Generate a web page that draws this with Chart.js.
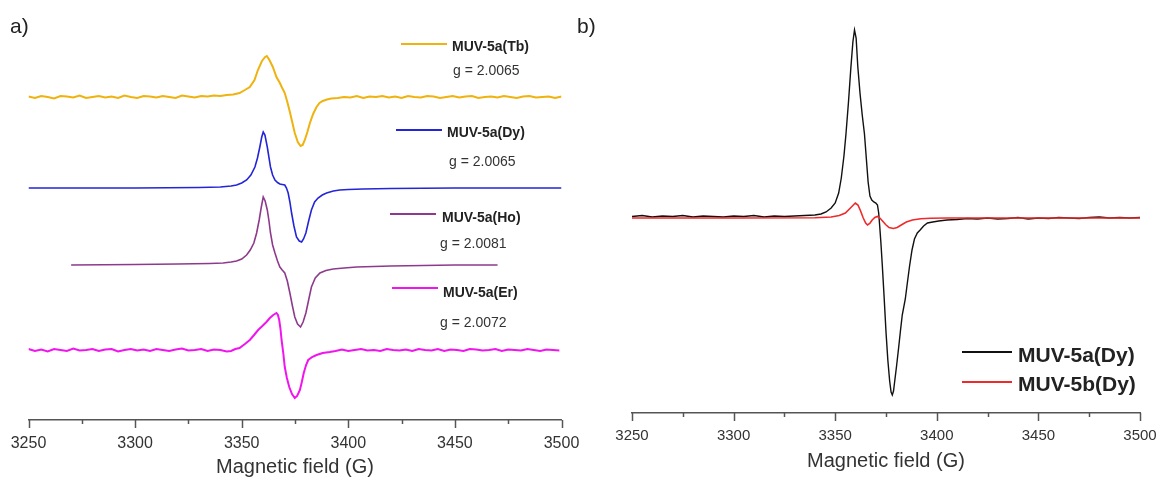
<!DOCTYPE html>
<html>
<head>
<meta charset="utf-8">
<script src="https://cdn.jsdelivr.net/npm/chart.js@4.4.1/dist/chart.umd.min.js"></script>
<style>
    body { margin: 0; background: #fff; font-family: "Liberation Sans", Arial, sans-serif; }
    #wrap { position: relative; width: 1160px; height: 483px; overflow: hidden; }
    canvas { position: absolute; top: 0; }
    .lbl { position: absolute; transform: translateY(-50%); white-space: nowrap; color: #222; line-height: 1; }
    .seg { position: absolute; height: 0; }
</style>
</head>
<body>
<div id="wrap">
    <canvas id="chartA" width="640" height="483" style="left:-40px"></canvas>
    <canvas id="chartB" width="640" height="483" style="left:560px"></canvas>

    <div class="lbl" style="left:10px;top:25px;font-size:21px;">a)</div>
    <div class="lbl" style="left:577px;top:25px;font-size:21px;">b)</div>

    <!-- panel a legend -->
    <div class="seg" style="left:401px;top:43px;width:46px;border-top:2px solid #EFB20F"></div>
    <div class="lbl" style="left:452px;top:46px;font-size:14px;font-weight:bold;">MUV-5a(Tb)</div>
    <div class="lbl" style="left:453px;top:70px;font-size:14px;color:#333">g = 2.0065</div>

    <div class="seg" style="left:396px;top:129px;width:46px;border-top:2px solid #2424D8"></div>
    <div class="lbl" style="left:447px;top:132px;font-size:14px;font-weight:bold;">MUV-5a(Dy)</div>
    <div class="lbl" style="left:449px;top:161px;font-size:14px;color:#333">g = 2.0065</div>

    <div class="seg" style="left:390px;top:213px;width:46px;border-top:2px solid #8E3A8C"></div>
    <div class="lbl" style="left:442px;top:217px;font-size:14px;font-weight:bold;">MUV-5a(Ho)</div>
    <div class="lbl" style="left:440px;top:243px;font-size:14px;color:#333">g = 2.0081</div>

    <div class="seg" style="left:392px;top:287px;width:46px;border-top:2px solid #F014EE"></div>
    <div class="lbl" style="left:443px;top:292px;font-size:14px;font-weight:bold;">MUV-5a(Er)</div>
    <div class="lbl" style="left:440px;top:322px;font-size:14px;color:#333">g = 2.0072</div>

    <!-- panel b legend -->
    <div class="seg" style="left:962px;top:351px;width:50px;border-top:2px solid #111"></div>
    <div class="lbl" style="left:1018px;top:354px;font-size:21px;font-weight:bold;">MUV-5a(Dy)</div>
    <div class="seg" style="left:962px;top:381px;width:50px;border-top:2px solid #EE2A2A"></div>
    <div class="lbl" style="left:1018px;top:383px;font-size:21px;font-weight:bold;">MUV-5b(Dy)</div>
</div>

<script>
// field range (G) and tick labels
const fieldMin = 3250;
const fieldMax = 3500;
const tickLabels = [3250, 3300, 3350, 3400, 3450, 3500];

// panel a: [field (G), signal], each spectrum shifted by its baseline offset
const offsetsA = { tb: 323, dy: 232, ho: 155, er: 70 };

const tbPoints = [
    [3250,0.5],[3253,-1],[3256,1],[3259,0],[3262,-1.5],[3265,1],[3268,0.5],[3271,-0.5],[3274,1.5],[3277,-1],
    [3280,0],[3283,1],[3286,-0.5],[3289,0.5],[3292,-1],[3295,1.5],[3298,0],[3301,-1],[3304,1],[3307,0.5],
    [3310,-0.5],[3313,1],[3316,0],[3319,-1],[3322,1.5],[3325,0.5],[3328,-0.5],[3331,1],[3334,0.5],[3337,1.5],
    [3340,1],[3343,2],[3346,2.5],[3349,4],[3351.5,7],[3353.8,10],[3356,17],[3357.6,27],[3359.5,36],[3361,40],
    [3361.8,41],[3363,37],[3364.6,30],[3366.3,20],[3367.9,14],[3369,9],[3370.2,4],[3371.4,-5],[3372.6,-15],
    [3373.8,-26],[3374.9,-36],[3376.3,-45],[3377.6,-49],[3378.6,-48],[3379.6,-43],[3380.8,-35],[3382,-26],
    [3383.5,-17],[3385.1,-10],[3386.5,-6],[3388,-4],[3390,-2.5],[3392,-1.5],
    [3395,-1],[3398,0],[3401,-0.5],[3404,1],[3407,-1],[3410,0.5],[3413,0],[3416,1],[3419,-0.5],[3422,0.5],
    [3425,-1],[3428,1],[3431,0],[3434,-0.5],[3437,1],[3440,0.5],[3443,-1],[3446,0],[3449,1],[3452,-0.5],
    [3455,0.5],[3458,1],[3461,-1],[3464,0],[3467,0.5],[3470,-0.5],[3473,1],[3476,0],[3479,-1],[3482,0.5],
    [3485,1],[3488,-0.5],[3491,0],[3494,0.5],[3497,-1],[3500,0.5]
];

const dyPoints = [
    [3250,0],[3300,0],[3330,0.5],[3340,1],[3345,2],[3347.6,3],[3350,5],[3352.3,8],[3354.3,13],[3356.2,21],
    [3357.4,30],[3358.5,41],[3359.4,51],[3360.1,56],[3360.9,53],[3362,41],[3363.5,21],[3364.5,13],[3365.6,8],
    [3366.8,5.5],[3367.9,4],[3369,3.5],[3370.2,3],[3371,0],[3371.8,-5],[3372.6,-14],[3373.4,-25],[3374.5,-38],
    [3375.7,-49],[3377,-53],[3378.1,-54],[3379,-51],[3380.1,-45],[3381.4,-33],[3382.7,-22],[3384.2,-14],
    [3385.8,-10],[3387.8,-7],[3389.8,-5],[3393,-3],[3396,-2],[3400,-1.5],[3407,-1],[3420,-0.5],[3450,0],[3500,0]
];

const hoPoints = [
    [3270,0],[3300,0.5],[3320,1],[3335,1.5],[3341.3,2],[3345,3],[3347.6,4],[3350,6],[3352.3,10],[3354,15],
    [3355.7,22],[3357,32],[3358.2,45],[3359.2,58],[3360.1,68],[3361,64],[3362,55],[3362.8,44],[3363.5,32],
    [3364.5,20],[3365.6,12],[3366.8,4],[3367.9,-2],[3369,-5],[3370.2,-8],[3371.4,-16],[3372.6,-28],[3373.8,-41],
    [3374.9,-52],[3376.2,-59],[3377.6,-62],[3378.8,-57],[3380.1,-48],[3381.4,-35],[3382.7,-22],[3384.5,-13],
    [3386.7,-8],[3389.5,-5.5],[3392.9,-4],[3398,-3],[3403.9,-2],[3420,-1],[3450,0],[3470,0]
];

const erPoints = [
    [3250,1],[3253,-1],[3256,0.5],[3259,-1.5],[3262,1],[3265,0],[3268,-1],[3271,1.5],[3274,-0.5],[3277,0],
    [3280,1],[3283,-1],[3286,0.5],[3289,1],[3292,-1.5],[3295,0],[3298,1],[3301,-0.5],[3304,0.5],[3307,-1],
    [3310,1],[3313,0],[3316,-1],[3319,0.5],[3322,1.5],[3325,-0.5],[3328,0],[3331,1],[3334,-1],[3337,0.5],
    [3340,0],[3343,-1.5],[3345,-1],[3347,1],[3349,2],[3351.5,6],[3353.8,10],[3355.8,15],[3357.7,20],[3359.7,24],
    [3361.6,28],[3363.2,32],[3364.8,35],[3366.3,37],[3367,35],[3367.6,30],[3368.2,21],[3368.7,10],[3369.5,-3],
    [3370.2,-17],[3371.2,-28],[3372.3,-37],[3373.6,-44],[3374.9,-48],[3376,-46],[3377.3,-40],[3378.2,-32],
    [3379.1,-23],[3380.2,-15],[3381.2,-10],[3383,-7],[3385.1,-5],[3388,-3],[3391.3,-2],
    [3394,-1],[3397,0.5],[3400,-1],[3403,0],[3406,1],[3409,-0.5],[3412,0],[3415,-1],[3418,1],[3421,0],
    [3424,-0.5],[3427,0.5],[3430,-1],[3433,1],[3436,0],[3439,-0.5],[3442,1],[3445,-1],[3448,0.5],[3451,0],
    [3454,-1],[3457,1],[3460,0.5],[3463,-0.5],[3466,0],[3469,1],[3472,-1],[3475,0.5],[3478,0],[3481,-0.5],
    [3484,1],[3487,0],[3490,-1],[3493,0.5],[3496,0],[3499,-0.5]
];

// panel b: [field (G), signal]
const offsetB = 0;

const dy5aPoints = [
    [3250,1.5],[3255,2.5],[3260,1],[3265,2],[3270,1.5],[3275,2.5],[3280,1],[3285,2],[3290,1.5],[3295,1],
    [3300,2],[3305,1.5],[3310,2.5],[3315,1],[3320,2],[3325,1.5],[3330,2],[3335,2.5],[3340,3],[3343,4],
    [3345.5,6],[3348,10],[3350,15],[3351.7,25],[3353,40],[3354.3,62],[3355.3,84],[3356.5,115],[3357.7,150],
    [3358.7,176],[3359.5,188],[3360.3,180],[3361.1,152],[3362.2,125],[3363.3,103],[3364.4,84],[3365.3,60],
    [3366.2,36],[3367.1,22],[3368,18],[3369,16],[3370,15],[3370.8,13],[3371.4,5],[3371.9,-8],[3372.5,-25],
    [3373.2,-48],[3374.1,-80],[3375,-114],[3375.9,-142],[3376.8,-163],[3377.5,-174],[3378.1,-177],[3378.7,-173],
    [3379.3,-163],[3380.2,-148],[3381.2,-130],[3382.1,-113],[3383,-97],[3384.5,-81],[3385.5,-65],[3386.6,-48],
    [3387.8,-32],[3389,-21],[3390.4,-15],[3391.8,-12],[3393.5,-8],[3395.4,-5],[3398,-4],[3400.9,-3],[3405,-2],
    [3410,-1.5],[3415,-0.5],[3420,-1],[3425,0],[3430,-1],[3435,-0.5],[3440,0.5],[3445,-1],[3450,0],[3455,-0.5],
    [3460,0.5],[3465,0],[3470,-0.5],[3475,0.5],[3480,1],[3485,0],[3490,0.5],[3495,0],[3500,0.5]
];

const dy5bPoints = [
    [3250,0],[3300,0],[3340,0.3],[3348,1],[3352,2.5],[3355,5],[3357.5,10],[3359.9,15],[3361.2,13],[3362.5,7],
    [3363.8,0],[3365,-5],[3365.9,-7],[3367,-5.5],[3368.2,-2],[3369.5,0.5],[3370.8,1.5],[3372,0],[3373.3,-3],
    [3374.8,-6.5],[3376.5,-9.5],[3378.6,-10.5],[3380.5,-9.5],[3382.5,-7],[3385,-4],[3388,-2],[3392,-0.8],
    [3397,-0.2],[3405,0],[3500,0]
];

const AXIS_COLOR = '#555';
const TEXT_COLOR = '#333';
const FONT = '"Liberation Sans", Arial, sans-serif';

function toXY(points, offset) {
    return points.map(p => ({ x: p[0], y: p[1] + offset }));
}

function trace(label, points, offset, color, width) {
    return {
        label: label,
        data: toXY(points, offset),
        borderColor: color,
        borderWidth: width,
        pointRadius: 0,
        tension: 0,
        fill: false
    };
}

// major / minor tick marks hanging below the axis line
const outerTicks = {
    id: 'outerTicks',
    afterDraw(chart) {
        const scale = chart.scales.x;
        const ctx = chart.ctx;
        ctx.save();
        ctx.strokeStyle = AXIS_COLOR;
        ctx.lineWidth = 1.5;
        scale.ticks.forEach(t => {
            const px = Math.round(scale.getPixelForValue(t.value)) + 0.5;
            const len = tickLabels.includes(t.value) ? 8 : 4;
            ctx.beginPath();
            ctx.moveTo(px, scale.top);
            ctx.lineTo(px, scale.top + len);
            ctx.stroke();
        });
        ctx.restore();
    }
};

function xAxis(fontSize, tickPad, titlePad) {
    return {
        type: 'linear',
        min: fieldMin,
        max: fieldMax,
        grid: { display: false, drawTicks: false },
        border: { display: true, color: AXIS_COLOR, width: 1.5 },
        ticks: {
            stepSize: 25,
            autoSkip: false,
            maxRotation: 0,
            padding: tickPad,
            color: TEXT_COLOR,
            font: { family: FONT, size: fontSize },
            callback: v => tickLabels.includes(v) ? String(v) : ''
        },
        title: {
            display: true,
            text: 'Magnetic field (G)',
            color: TEXT_COLOR,
            font: { family: FONT, size: 20 },
            padding: titlePad
        }
    };
}

function baseOptions(x, yMin, yMax, padding) {
    return {
        responsive: false,
        animation: false,
        devicePixelRatio: 1,
        layout: { padding: padding },
        plugins: { legend: { display: false }, tooltip: { enabled: false } },
        scales: {
            x: x,
            y: { display: false, min: yMin, max: yMax }
        }
    };
}

// canvas A spans -40..600 px of the page, canvas B spans 560..1200 px
new Chart(document.getElementById('chartA'), {
    type: 'line',
    data: {
        datasets: [
            trace('MUV-5a(Tb)', tbPoints, offsetsA.tb, '#EFB20F', 2),
            trace('MUV-5a(Dy)', dyPoints, offsetsA.dy, '#2424D8', 1.6),
            trace('MUV-5a(Ho)', hoPoints, offsetsA.ho, '#8E3A8C', 1.6),
            trace('MUV-5a(Er)', erPoints, offsetsA.er, '#F014EE', 2)
        ]
    },
    options: baseOptions(
        xAxis(16, 14, { top: -12.2, bottom: 4 }),
        0, 400,
        { left: 68.5, right: 38.5, top: 20, bottom: 0 }
    ),
    plugins: [outerTicks]
});

new Chart(document.getElementById('chartB'), {
    type: 'line',
    data: {
        datasets: [
            trace('MUV-5b(Dy)', dy5bPoints, offsetB, '#EE2A2A', 1.6),
            trace('MUV-5a(Dy)', dy5aPoints, offsetB, '#111111', 1.4)
        ]
    },
    options: baseOptions(
        xAxis(15, 13.5, { top: -9, bottom: 10 }),
        -195, 198,
        { left: 72, right: 60, top: 20, bottom: 0 }
    ),
    plugins: [outerTicks]
});
</script>
</body>
</html>
